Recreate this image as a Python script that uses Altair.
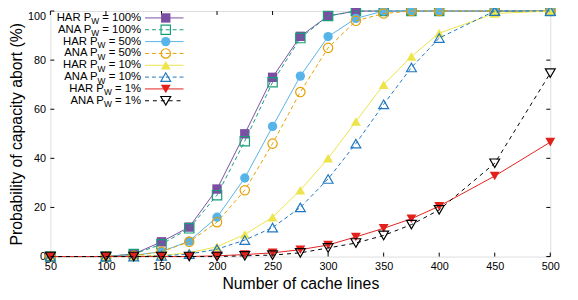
import altair as alt
import pandas as pd

# ---------------- data ----------------
cache_lines = [50, 100, 125, 150, 175, 200, 225, 250, 275, 300, 325, 350, 375, 400, 450, 500]

har_100 = [0, 0, 1, 6, 12, 27.5, 50, 73, 89.7, 98, 100, 100, 100, 100, 100, 100]
ana_100 = [0, 0, 1, 5, 11.5, 25, 47, 71, 89, 98, 100, 100, 100, 100, 100, 100]
har_50 = [0, 0, 0.5, 2, 6.3, 16, 32, 53, 73.5, 89.6, 97, 100, 100, 100, 100, 100]
ana_50 = [0, 0, 0.3, 2, 6, 14, 27, 46, 67, 85, 96, 99, 100, 100, 100, 100]
har_10 = [0, 0, 0, 0.5, 1.5, 4, 9, 16, 27, 40, 55, 70, 81.5, 91, 99, 100]
ana_10 = [0, 0, 0, 0.3, 1, 3, 6.7, 11.8, 20, 31.6, 46, 62, 77, 89, 100, 100]
har_1 = [0, 0, 0, 0, 0, 0.3, 0.8, 1.5, 2.8, 4.7, 8, 11.5, 15.4, 20.5, 32.8, 46.6]
ana_1 = [0, 0, 0, 0, 0, 0, 0.3, 0.6, 1.5, 3.5, 5.5, 8.6, 13, 19, 38, 74.7]

series_prefix = ["HAR P", "ANA P", "HAR P", "ANA P", "HAR P", "ANA P", "HAR P", "ANA P"]
series_suffix = [" = 100%", " = 100%", " = 50%", " = 50%", " = 10%", " = 10%", " = 1%", " = 1%"]
series_values = [har_100, ana_100, har_50, ana_50, har_10, ana_10, har_1, ana_1]

x_ticks = [50, 100, 150, 200, 250, 300, 350, 400, 450, 500]
y_ticks = [0, 20, 40, 60, 80, 100]

# ---------------- styles ----------------
colors = ["#7b4ea3", "#159e78", "#56b4e9", "#e69f00", "#ede44a", "#1f78c0", "#e3211c", "#000000"]
shapes = ["square", "square", "circle", "circle", "triangle-up", "triangle-up", "triangle-down", "triangle-down"]
filled = [True, False, True, False, True, False, True, False]
dashes = [None, [4, 3], None, [4, 3], None, [4, 3], None, [4, 4]]

TOP = 1
W, H = 507, 250 - TOP
FONT = "Liberation Sans"

x_scale = alt.Scale(domain=[50, 500], nice=False, zero=False)
y_scale = alt.Scale(domain=[0, 100], nice=False)

# Arial/Liberation Sans glyph widths (per 1000 em)
GW = {"H": 722, "A": 667, "R": 722, "N": 722, "P": 667, "W": 944, " ": 278,
      "=": 584, "%": 889}
for d in "0123456789":
    GW[d] = 556


def text_width(s, size):
    return sum(GW.get(c, 556) for c in s) * size / 1000.0


LEG_FS = 11.5
SUB_FS = 8.5
LEG_RIGHT = 92
LEG_Y0 = 8 - TOP
LEG_DY = 12
LEG_L1, LEG_L2, LEG_MK = 96, 135, 117

one = pd.DataFrame({"a": [0]})

layers = []

base_df = pd.DataFrame({"x": [50, 500], "y": [0, 100]})
axes = alt.Chart(base_df).mark_point(opacity=0).encode(
    x=alt.X("x:Q", scale=x_scale,
            axis=alt.Axis(values=x_ticks, title="Number of cache lines", ticks=False, domain=False,
                          grid=False, labelFontSize=11, labelPadding=4, titleFontSize=16,
                          titleFontWeight="normal", titlePadding=4, labelFont=FONT, titleFont=FONT,
                          labelColor="black", titleColor="black", labelFlush=False)),
    y=alt.Y("y:Q", scale=y_scale,
            axis=alt.Axis(values=y_ticks, title="Probability of capacity abort (%)", ticks=False,
                          domain=False, grid=False, labelFontSize=11, labelPadding=5,
                          labelBaseline=alt.condition("datum.value == 100", alt.value("top"), alt.value("middle")),
                          titleFontSize=16, titleFontWeight="normal", titlePadding=3,
                          labelFont=FONT, titleFont=FONT, labelColor="black", titleColor="black")),
)
layers.append(axes)

# inward ticks
xt = pd.DataFrame({"t": x_ticks})
yt = pd.DataFrame({"t": y_ticks})
layers.append(alt.Chart(xt).mark_rule(color="black", strokeWidth=1).encode(
    x=alt.X("t:Q", scale=x_scale), y=alt.value(H - 4), y2=alt.value(H)))
layers.append(alt.Chart(xt).mark_rule(color="black", strokeWidth=1).encode(
    x=alt.X("t:Q", scale=x_scale), y=alt.value(0), y2=alt.value(4)))
layers.append(alt.Chart(yt).mark_rule(color="black", strokeWidth=1).encode(
    y=alt.Y("t:Q", scale=y_scale), x=alt.value(0), x2=alt.value(4)))
layers.append(alt.Chart(yt).mark_rule(color="black", strokeWidth=1).encode(
    y=alt.Y("t:Q", scale=y_scale), x=alt.value(W - 4), x2=alt.value(W)))

for i, vals in enumerate(series_values):
    df = pd.DataFrame({"x": cache_lines, "y": vals})
    line_kw = dict(color=colors[i], strokeWidth=1)
    if dashes[i]:
        line_kw["strokeDash"] = dashes[i]
    layers.append(alt.Chart(df).mark_line(**line_kw).encode(
        x=alt.X("x:Q", scale=x_scale), y=alt.Y("y:Q", scale=y_scale)))
    pt_kw = dict(shape=shapes[i], size=90 if "triangle" not in shapes[i] else 100,
                 strokeWidth=1.2, opacity=1, color=colors[i], filled=filled[i])
    layers.append(alt.Chart(df).mark_point(**pt_kw).encode(
        x=alt.X("x:Q", scale=x_scale), y=alt.Y("y:Q", scale=y_scale)))

    # legend row
    ly = LEG_Y0 + LEG_DY * i
    layers.append(alt.Chart(one).mark_rule(**line_kw).encode(
        x=alt.value(LEG_L1), x2=alt.value(LEG_L2), y=alt.value(ly)))
    layers.append(alt.Chart(one).mark_point(**pt_kw).encode(
        x=alt.value(LEG_MK), y=alt.value(ly)))
    suffix = series_suffix[i]
    x_tail = LEG_RIGHT
    x_sub = x_tail - text_width(suffix, LEG_FS)
    x_main = x_sub - text_width("W", SUB_FS)
    layers.append(alt.Chart(one).mark_text(text=suffix, align="right", baseline="middle",
                                           fontSize=LEG_FS, font=FONT, color="black").encode(
        x=alt.value(x_tail), y=alt.value(ly)))
    layers.append(alt.Chart(one).mark_text(text="W", align="right", baseline="middle",
                                           fontSize=SUB_FS, font=FONT, color="black").encode(
        x=alt.value(x_sub), y=alt.value(ly + 3.5)))
    layers.append(alt.Chart(one).mark_text(text=series_prefix[i], align="right", baseline="middle",
                                           fontSize=LEG_FS, font=FONT, color="black").encode(
        x=alt.value(x_main), y=alt.value(ly)))

chart = alt.layer(*layers).properties(
    width=W, height=H,
    autosize=alt.AutoSizeParams(type="none"),
    padding={"left": 43, "top": TOP, "right": 20, "bottom": 42},
).configure_view(stroke="black", strokeWidth=1.2).configure(background="white")

chart.save("out.html", embed_options={"renderer": "svg", "actions": False})
